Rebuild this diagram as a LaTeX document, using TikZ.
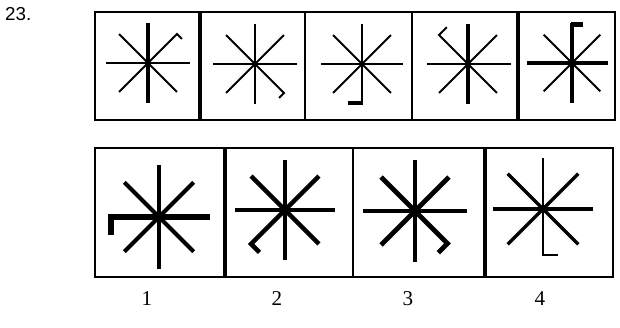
\documentclass[tikz,border=0pt]{standalone}
\usepackage{fontspec}
\setmainfont{Liberation Serif}
\newfontfamily\qsans{Liberation Sans}
\usetikzlibrary{calc}

\begin{document}
\begin{tikzpicture}[x=0.03cm,y=0.03cm,
  frame/.style={draw=black,line width=2.4pt},
  divbold/.style={line width=3.6pt},
  divthin/.style={line width=1.6pt},
  arm/.style={line width=1.7pt},
  armmid/.style={line width=3pt},
  armbold/.style={line width=4.1pt},
  numlab/.style={font=\fontsize{18}{20}\selectfont,inner sep=0pt,anchor=base}]
\useasboundingbox (0,0) rectangle (620,327);

% ===== question number =====
\node[font=\qsans\fontsize{16}{18}\selectfont,anchor=north west,inner sep=0pt] (qnum) at (5,320) {23.};

% ===== top row: the sequence =====
\draw[frame] (95,315) rectangle (615,207);
\draw[divbold] (200,315) -- (200,207);
\draw[divthin] (305,315) -- (305,207);
\draw[divthin] (412,315) -- (412,207);
\draw[divbold] (518,315) -- (518,207);

% cell 1: bold vertical, hook on NE arm
\coordinate (t1) at (148,264);
\draw[armbold] (t1) ++(0,40) -- ++(0,-80);
\draw[arm] (t1) ++(-42,0) -- ++(84,0);
\foreach \a in {135,225,315} \draw[arm] (t1) -- ++(\a:41);
\draw[arm] (t1) -- ++(45:41) -- ++(-45:7);

% cell 2: all thin, hook on SE arm
\coordinate (t2) at (255,263);
\draw[arm] (t2) ++(0,40) -- ++(0,-80);
\draw[arm] (t2) ++(-42,0) -- ++(84,0);
\foreach \a in {45,135,225} \draw[arm] (t2) -- ++(\a:41);
\draw[arm] (t2) -- ++(-45:41) -- ++(-135:7);

% cell 3: bold hook on S arm
\coordinate (t3) at (362,263);
\draw[arm] (t3) ++(0,40) -- ++(0,-78);
\draw[armbold] (t3) ++(1,-39) -- ++(-15,0);
\draw[arm] (t3) ++(-41,0) -- ++(82,0);
\foreach \a in {45,135,225,315} \draw[arm] (t3) -- ++(\a:41);

% cell 4: bold vertical, hook on NW arm
\coordinate (t4) at (468,263);
\draw[armbold] (t4) ++(0,40) -- ++(0,-80);
\draw[arm] (t4) ++(-41,0) -- ++(84,0);
\foreach \a in {45,225,315} \draw[arm] (t4) -- ++(\a:41);
\draw[arm] (t4) -- ++(135:41) -- ++(45:11);

% cell 5: bold horizontal, bold hook on N arm
\coordinate (t5) at (572,264);
\draw[armmid] (t5) ++(0,40) -- ++(0,-80);
\draw[armbold] (t5) ++(-1.5,38.5) -- ++(12,0);
\draw[armbold] (t5) ++(-45,0) -- ++(81,0);
\foreach \a in {45,135,225,315} \draw[arm] (t5) -- ++(\a:40);

% ===== bottom row: the answers =====
\draw[frame] (95,179) rectangle (613,50);
\draw[divbold,line width=4.2pt] (225,179) -- (225,50);
\draw[divthin,line width=2.4pt] (353,179) -- (353,50);
\draw[divbold] (485,179) -- (485,50);

% answer 1: hook on W arm
\coordinate (b1) at (159,110);
\draw[armbold] (b1) ++(0,52) -- ++(0,-104);
\draw[armbold,line width=4.4pt] (b1) ++(51,0) -- ++(-99,0) -- ++(0,-18);
\foreach \a in {45,135,225,315} \draw[armbold,line width=3.6pt] (b1) -- ++(\a:49);

% answer 2: hook on SW arm
\coordinate (b2) at (285,117);
\draw[armbold,line width=3.8pt] (b2) ++(0,50) -- ++(0,-100);
\draw[armbold] (b2) ++(-50,0) -- ++(100,0);
\foreach \a in {45,135,315} \draw[armbold,line width=3.8pt] (b2) -- ++(\a:48);
\draw[armbold,line width=3.8pt] (b2) -- ++(225:48) -- ++(-45:12);

% answer 3: hook on SE arm
\coordinate (b3) at (415,116);
\draw[armbold] (b3) ++(0,51) -- ++(0,-102);
\draw[armbold] (b3) ++(-52,0) -- ++(104,0);
\foreach \a in {45,135,225} \draw[armbold] (b3) -- ++(\a:48);
\draw[armbold] (b3) -- ++(-45:46) -- ++(-135:13);

% answer 4: thin vertical, hook on S arm
\coordinate (b4) at (543,118);
\draw[arm] (b4) ++(0,51) -- ++(0,-97) -- ++(15,0);
\draw[armbold] (b4) ++(-50,0) -- ++(100,0);
\foreach \a in {45,135,225,315} \draw[armmid] (b4) -- ++(\a:50);

% ===== answer numbers =====
\node[numlab] (n1) at (147,22) {1};
\node[numlab] (n2) at (277,22) {2};
\node[numlab] (n3) at (408,22) {3};
\node[numlab] (n4) at (540,22) {4};

\end{tikzpicture}
\end{document}
